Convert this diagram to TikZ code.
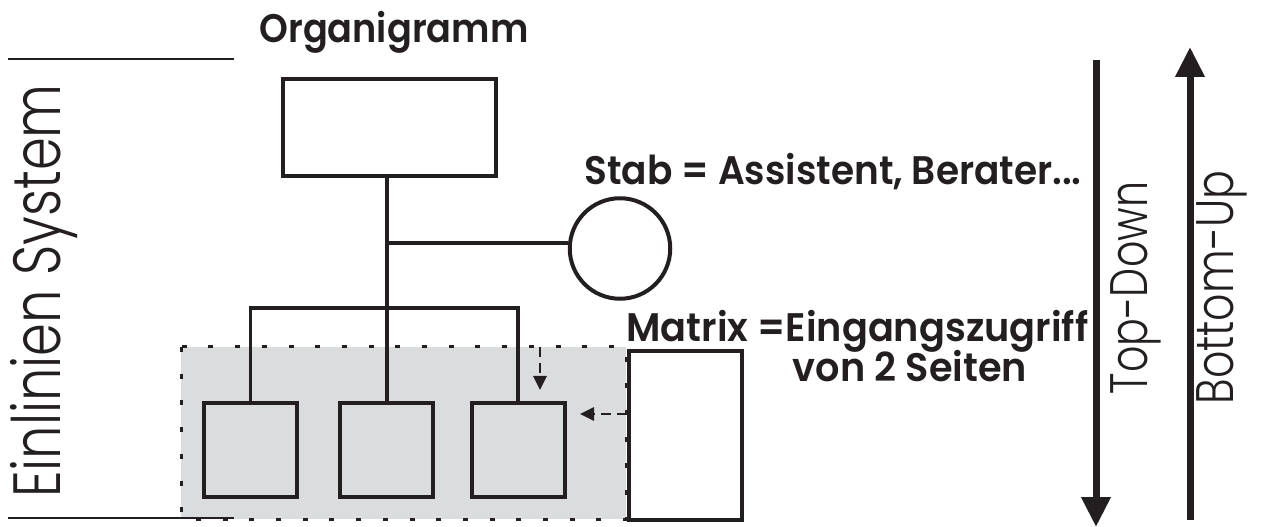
\documentclass[tikz,border=0pt]{standalone}
\usepackage{fontspec}
\usepackage{graphicx}
\usetikzlibrary{arrows.meta}
\IfFontExistsTF{Poppins Light}{\newfontfamily\thinFont{Poppins Light}}{\newfontfamily\thinFont{Poppins}}
\IfFontExistsTF{Poppins SemiBold}{\newfontfamily\boldFont{Poppins SemiBold}}{\newfontfamily\boldFont{Poppins}[BoldFont=*]}
\newcommand{\bigBold}[2][1]{\scalebox{#1}[1]{\boldFont\fontsize{40}{44}\selectfont #2}}
\newcommand{\thinText}[3][1]{\scalebox{#1}[1]{\thinFont\fontsize{#2}{#2}\selectfont #3}}
\definecolor{groupGray}{RGB}{219,220,222}
\definecolor{ink}{RGB}{35,31,32}

\begin{document}
\begin{tikzpicture}[x=1bp, y=-1bp, ink,
    box/.style={draw=ink, line width=4bp, inner sep=0pt, fill=white},
    link/.style={draw=ink, line width=3.6bp},
    hint/.style={draw=ink, line width=2.8bp, dash pattern=on 10bp off 6bp, -{Triangle[length=14bp,width=13bp]}},
    flow/.style={draw=ink, line width=7bp, -{Triangle[length=30bp,width=28bp]}}]
  \useasboundingbox (0,0) rectangle (1266,527);

  % group of the lower units
  \draw[fill=groupGray, line width=3bp, dash pattern=on 5bp off 21.7bp] (181,347) rectangle (626,519);

  \node (ORG) at (394,43) [anchor=base] {\bigBold[0.92]{Organigramm}};
  \node[box, minimum width=213bp, minimum height=97bp] (TOP) at (389.5,127.5) {};
  \node[box, circle, minimum size=100.5bp] (STAB) at (620,248.5) {};
  \node[box, fill=groupGray, minimum width=93bp, minimum height=93bp] (U1) at (250.5,450) {};
  \node[box, fill=groupGray, minimum width=93bp, minimum height=93bp] (U2) at (386.5,450) {};
  \node[box, fill=groupGray, minimum width=93bp, minimum height=93bp] (U3) at (518,450) {};
  \node[box, minimum width=113.5bp, minimum height=169.5bp] (MX) at (685.5,435.5) {};

  \coordinate (J) at (387,243);
  \coordinate (BAR) at (387,308);
  \draw[link] (TOP.south -| BAR) -- (U2.north -| BAR);
  \draw[link] (J) -- (J -| STAB.west);
  \draw[link] (U1.north) |- (BAR) -| (U3.north);

  % Matrix: Zugriff von 2 Seiten
  \coordinate (DOWN) at (540,390);
  \coordinate (LEFT) at (580,414);
  \draw[hint] (540,347) -- (DOWN);
  \draw[hint] (MX.west |- LEFT) -- (LEFT);

  \node (STABTXT) at (581,185) [anchor=base west] {\bigBold[0.94]{Stab = Assistent, Berater...}};
  \node (MXTXT) at (623,342) [anchor=base west] {\bigBold[0.96]{Matrix =Eingangszugriff}};
  \node (MXTXT2) at (910,382) [anchor=base] {\bigBold[0.96]{von 2 Seiten}};

  % Einlinien System
  \draw[line width=2bp] (8,59) -- (234,59);
  \draw[line width=2bp] (8,518) -- (234,518);
  \node (EIN) at (60,291) [rotate=90, anchor=base] {\thinText[0.79]{67}{Einlinien System}};

  % Richtung
  \coordinate (TDs) at (1096,60);
  \coordinate (TDe) at (1096,527);
  \coordinate (BUs) at (1190,520);
  \coordinate (BUe) at (1190,47);
  \draw[flow] (TDs) -- (TDe);
  \draw[flow] (BUs) -- (BUe);
  \node (TD) at (1147,288) [rotate=90, anchor=base] {\thinText[0.78]{53}{Top-Down}};
  \node (BU) at (1233,287.5) [rotate=90, anchor=base] {\thinText[0.81]{53}{Bottom-Up}};
\end{tikzpicture}
\end{document}
